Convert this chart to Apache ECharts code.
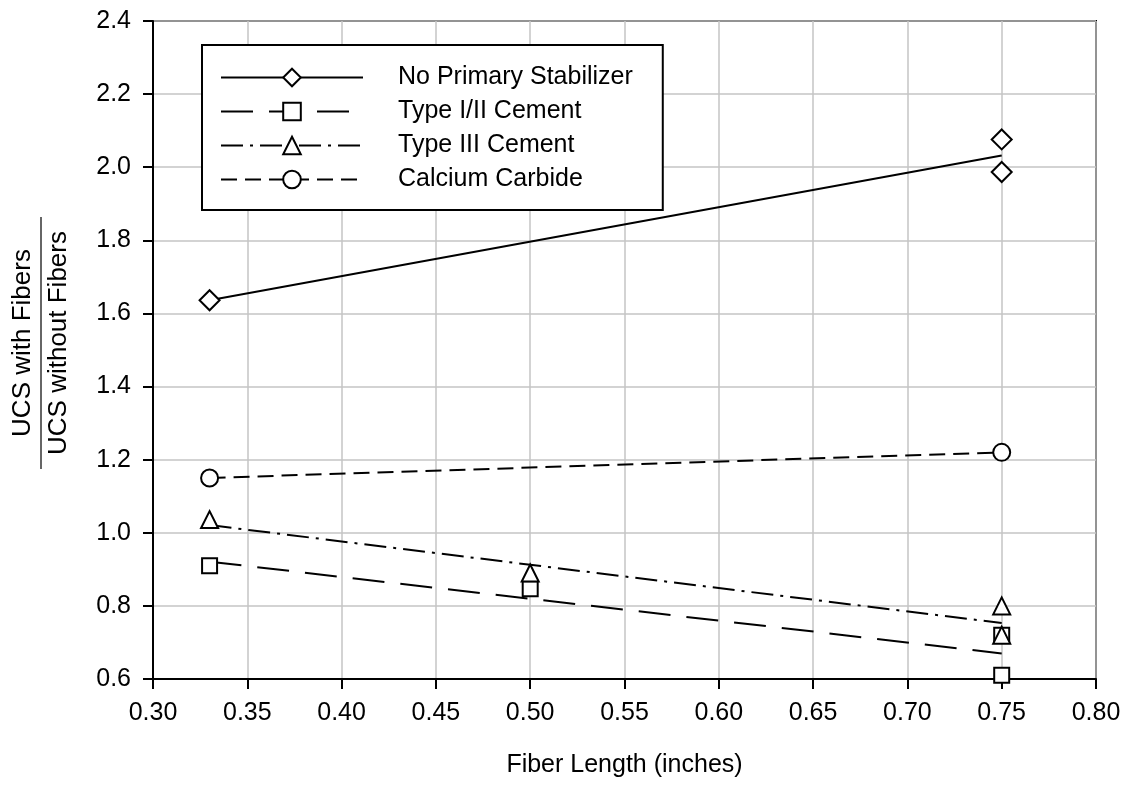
<!DOCTYPE html>
<html>
<head>
<meta charset="utf-8">
<script src="https://cdn.jsdelivr.net/npm/echarts@6/dist/echarts.min.js"></script>
<style>html,body{margin:0;padding:0;background:#fff}#c{width:1127px;height:786px}</style>
</head>
<body>
<div id="c"></div>
<script>
// Tick labels
const xTicks = ['0.30','0.35','0.40','0.45','0.50','0.55','0.60','0.65','0.70','0.75','0.80'];
const yTicks = ['0.6','0.8','1.0','1.2','1.4','1.6','1.8','2.0','2.2','2.4'];
// Series names
const seriesNames = ['No Primary Stabilizer','Type I/II Cement','Type III Cement','Calcium Carbide'];
// Measured points
const noPrimaryX = [0.33, 0.75, 0.75];
const noPrimaryY = [1.636, 2.076, 1.987];
const type12X = [0.33, 0.50, 0.75, 0.75];
const type12Y = [0.910, 0.847, 0.720, 0.610];
const type3X = [0.33, 0.50, 0.75, 0.75];
const type3Y = [1.036, 0.890, 0.800, 0.720];
const carbideX = [0.33, 0.75];
const carbideY = [1.150, 1.220];
// Trend lines (read endpoints)
const trendX = [0.33, 0.75];
const noPrimaryTrend = [1.636, 2.032];
const type12Trend = [0.921, 0.670];
const type3Trend = [1.021, 0.753];
const carbideTrend = [1.150, 1.220];

const FONT = 'Liberation Sans, Arial, Helvetica, sans-serif';
const zip = (xs, ys) => xs.map((x, i) => [x, ys[i]]);

const styles = [
  {symbol: 'diamond', size: 20, dash: 'solid'},
  {symbol: 'rect', size: 15, dash: [32, 16]},
  {symbol: 'triangle', size: 17, dash: [22, 7, 3, 7]},
  {symbol: 'circle', size: 17, dash: [16, 8]}
];
const pts = [zip(noPrimaryX, noPrimaryY), zip(type12X, type12Y), zip(type3X, type3Y), zip(carbideX, carbideY)];
const trends = [zip(trendX, noPrimaryTrend), zip(trendX, type12Trend), zip(trendX, type3Trend), zip(trendX, carbideTrend)];

const series = [];
seriesNames.forEach((name, i) => {
  series.push({
    name: name, type: 'line', data: trends[i], showSymbol: false,
    symbol: styles[i].symbol, symbolSize: styles[i].size,
    lineStyle: {color: '#000', width: 2, type: styles[i].dash},
    itemStyle: {color: '#fff', borderColor: '#000', borderWidth: 2},
    animation: false, silent: true, z: 2
  });
});
seriesNames.forEach((name, i) => {
  series.push({
    name: name + ' data', type: 'scatter', data: pts[i],
    symbol: styles[i].symbol, symbolSize: styles[i].size,
    itemStyle: {color: '#fff', borderColor: '#000', borderWidth: 2, opacity: 1},
    animation: false, silent: true, z: 3
  });
});

const chart = echarts.init(document.getElementById('c'), null, {renderer: 'canvas'});
chart.setOption({
  backgroundColor: '#fff',
  animation: false,
  grid: {left: 153, right: 31, top: 21, bottom: 107, show: true, borderColor: '#000', borderWidth: 2, containLabel: false},
  xAxis: {
    type: 'value', min: parseFloat(xTicks[0]), max: parseFloat(xTicks[xTicks.length - 1]), interval: 0.05,
    name: 'Fiber Length (inches)', nameLocation: 'middle', nameGap: 74,
    nameTextStyle: {fontFamily: FONT, fontSize: 25, color: '#000'},
    axisLine: {show: true, onZero: false, lineStyle: {color: '#000', width: 2}},
    axisTick: {show: true, inside: false, length: 10, lineStyle: {color: '#000', width: 2}},
    axisLabel: {margin: 22, fontFamily: FONT, fontSize: 25, color: '#000',
      formatter: v => xTicks[Math.round((v - 0.30) / 0.05)]},
    splitLine: {show: true, lineStyle: {color: '#c4c4c4', width: 1.5}}
  },
  yAxis: {
    type: 'value', min: parseFloat(yTicks[0]), max: parseFloat(yTicks[yTicks.length - 1]), interval: 0.2,
    axisLine: {show: true, onZero: false, lineStyle: {color: '#000', width: 2}},
    axisTick: {show: true, inside: false, length: 10, lineStyle: {color: '#000', width: 2}},
    axisLabel: {margin: 22, fontFamily: FONT, fontSize: 25, color: '#000',
      formatter: v => yTicks[Math.round((v - 0.6) / 0.2)]},
    splitLine: {show: true, lineStyle: {color: '#c4c4c4', width: 1.5}}
  },
  legend: {
    show: true, orient: 'vertical', left: 202, top: 45,
    data: seriesNames,
    itemWidth: 142, itemHeight: 22, itemGap: 9,
    backgroundColor: '#fff', borderColor: '#000', borderWidth: 2,
    padding: [20, 30, 18, 18],
    textStyle: {fontFamily: FONT, fontSize: 25, color: '#000', padding: [0, 0, 0, 30]},
    selectedMode: false
  },
  graphic: [{
    type: 'group', x: 41, y: 343, rotation: Math.PI / 2,
    children: [
      {type: 'text', x: 0, y: -18, style: {text: 'UCS with Fibers', fontFamily: FONT, fontSize: 26, fill: '#000', textAlign: 'center', textVerticalAlign: 'middle'}},
      {type: 'line', shape: {x1: -126, y1: 0, x2: 126, y2: 0}, style: {stroke: '#333', lineWidth: 1.5}},
      {type: 'text', x: 0, y: 18, style: {text: 'UCS without Fibers', fontFamily: FONT, fontSize: 26, fill: '#000', textAlign: 'center', textVerticalAlign: 'middle'}}
    ]
  }],
  series: series
});
</script>
</body>
</html>
